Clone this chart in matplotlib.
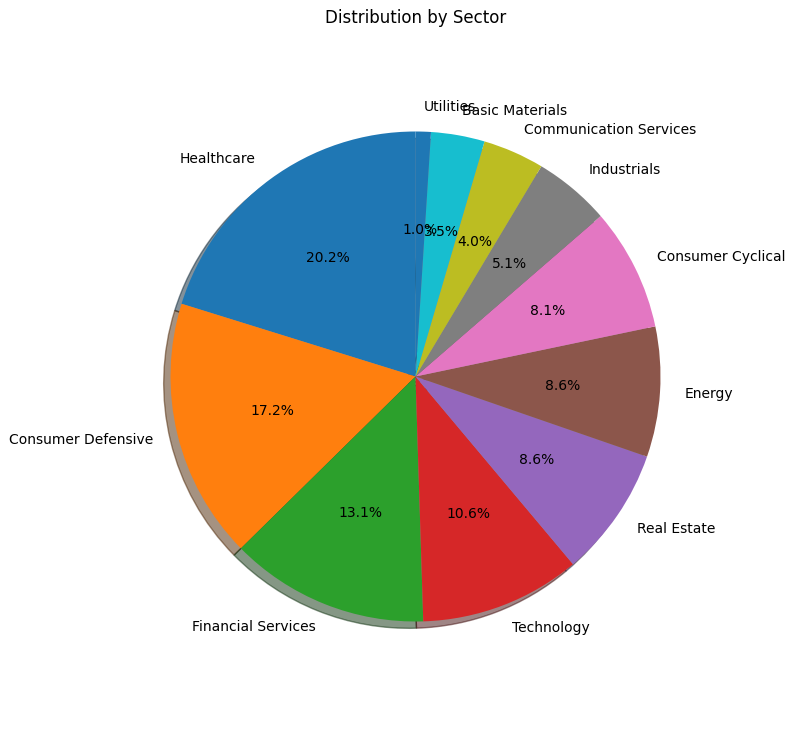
import matplotlib
matplotlib.use('Agg')
import matplotlib.pyplot as plt

SECTORS = [
    'Healthcare', 'Consumer Defensive', 'Financial Services', 'Technology',
    'Real Estate', 'Energy', 'Consumer Cyclical', 'Industrials',
    'Communication Services', 'Basic Materials', 'Utilities',
]
COUNTS = [40, 34, 26, 21, 17, 17, 16, 10, 8, 7, 2]

W, H = 794, 733
fig = plt.figure(figsize=(W / 100, H / 100), dpi=100)
ax = fig.add_axes([70.5 / W, 11.5 / H, 690 / W, 690 / H])

ax.pie(COUNTS, labels=SECTORS, autopct='%1.1f%%', startangle=90, shadow=True)
lim = 345 / 245
ax.set_xlim(-lim, lim)
ax.set_ylim(-lim, lim)
ax.set_title('Distribution by Sector')

plt.savefig('out.png', dpi=100)
